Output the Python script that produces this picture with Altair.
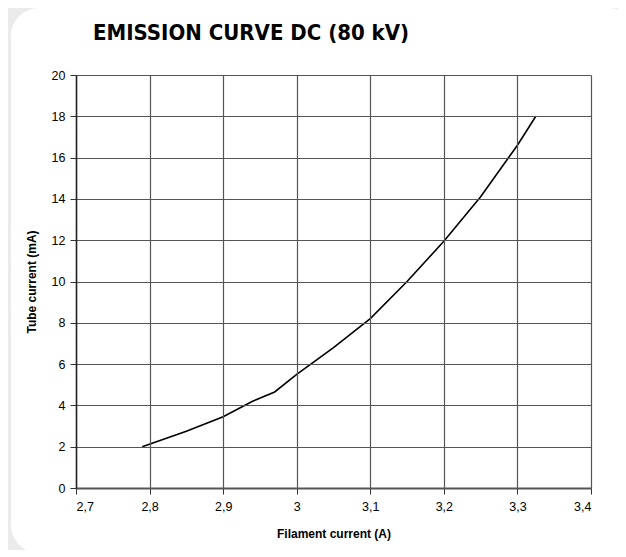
import altair as alt
import pandas as pd

filament_current = [2.79, 2.85, 2.90, 2.94, 2.97, 3.00, 3.05, 3.10, 3.15, 3.20, 3.25, 3.29, 3.30, 3.325]
tube_current = [2.0, 2.75, 3.45, 4.2, 4.65, 5.5, 6.8, 8.2, 10.0, 11.95, 14.1, 16.1, 16.6, 18.0]
x_ticks = [2.7, 2.8, 2.9, 3.0, 3.1, 3.2, 3.3, 3.4]
y_ticks = [0, 2, 4, 6, 8, 10, 12, 14, 16, 18, 20]

df = pd.DataFrame({"x": filament_current, "y": tube_current})

card = alt.Chart(alt.Data(values=[{"a": 1}])).mark_rect(
    color="white", cornerRadius=28
).encode(
    x=alt.value(-65), x2=alt.value(560), y=alt.value(-67), y2=alt.value(478)
)

line = alt.Chart(df).mark_line(color="black", strokeWidth=1.6).encode(
    x=alt.X("x:Q", scale=alt.Scale(domain=[2.7, 3.4], nice=False, zero=False),
            axis=alt.Axis(values=x_ticks, format=".1~f", zindex=1, labelPadding=6,
                          labelExpr="replace(datum.label, '.', ',')",
                          title="Filament current (A)", titlePadding=16)),
    y=alt.Y("y:Q", scale=alt.Scale(domain=[0, 20], nice=False),
            axis=alt.Axis(values=y_ticks, zindex=1, labelPadding=5,
                          title="Tube current (mA)", titlePadding=13)),
)

chart = alt.layer(card, line).properties(
    width=515, height=413,
    autosize=alt.AutoSizeParams(type="none"),
    padding={"left": 68, "top": 67, "right": 27, "bottom": 62},
    title=alt.TitleParams("EMISSION CURVE DC (80 kV)", anchor="start",
                          font="DejaVu Sans Condensed",
                          fontSize=22, fontWeight="bold", color="black", dx=17, dy=67,
                          offset=30, frame="group", zindex=2),
    background="#ebebeb",
).configure_view(stroke=None).configure_axis(
    grid=True, gridColor="#555555", gridWidth=1.2, gridOpacity=1,
    domainColor="#222222", domainWidth=1.5,
    tickColor="#333333", tickSize=6, tickWidth=1,
    labelFont="Liberation Sans", labelFontSize=12.5, labelColor="black", labelPadding=3,
    titleFont="Liberation Sans", titleFontSize=12, titleFontWeight="bold", titleColor="black",
).configure_axisX(domainColor="#555555", domainWidth=2)

chart.save("out.html", embed_options={"renderer": "svg", "actions": False})
